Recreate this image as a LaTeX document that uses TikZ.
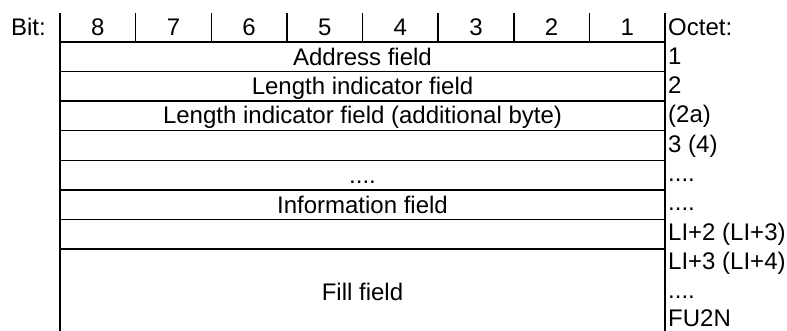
\documentclass[tikz,border=0pt]{standalone}
\usepackage{fontspec}
\setmainfont{Liberation Sans}
\begin{document}
\begin{tikzpicture}[x=1pt,y=-1pt,
  rule/.style={line width=1.5pt},
  txt/.style={inner sep=0pt,anchor=base,font=\fontsize{24}{28}\selectfont},
  oct/.style={inner sep=0pt,anchor=base west,font=\fontsize{24}{28}\selectfont}]
\useasboundingbox (0,0) rectangle (787,330);
\def\cw{75.625}
% header verticals
\foreach \i in {0,...,8} {\coordinate (h\i) at ({60+\i*\cw},13);}
\foreach \i in {1,...,7} {\draw[rule] (h\i) -- ++(0,29);}
% outer verticals
\coordinate (lt) at (60,13); \coordinate (lb) at (60,331);
\coordinate (rt) at (665,13); \coordinate (rb) at (665,331);
\draw[rule] (lt) -- (lb);
\draw[rule] (rt) -- (rb);
% horizontal rules
\foreach \k in {0,...,7} {
  \coordinate (a\k) at (60,{42+\k*29.57});
  \coordinate (b\k) at (665,{42+\k*29.57});
  \draw[rule] (a\k) -- (b\k);
}
% header text
\node[txt] (bit) at (28.5,35) {Bit:};
\foreach \i [evaluate=\i as \n using int(8-\i)] in {0,...,7}
  {\node[txt] (n\i) at ({60+(\i+0.5)*\cw},35) {\n};}
% field texts
\node[txt] (addr) at (362.5,65) {Address field};
\node[txt] (len) at (362.5,94) {Length indicator field};
\node[txt] (lenb) at (362.5,123) {Length indicator field (additional byte)};
\node[txt] (dots) at (362.5,183) {....};
\node[txt] (info) at (362.5,213) {Information field};
\node[txt] (fill) at (362.5,300) {Fill field};
% octet labels
\node[oct] (o0) at (668,35) {Octet:};
\node[oct] (o1) at (668,64.3) {1};
\node[oct] (o2) at (668,93.6) {2};
\node[oct] (o3) at (668,122.9) {(2a)};
\node[oct] (o4) at (668,152.2) {3 (4)};
\node[oct] (o5) at (668,181.5) {....};
\node[oct] (o6) at (668,210.8) {....};
\node[oct] (o7) at (668,240.1) {LI+2 (LI+3)};
\node[oct] (o8) at (668,269.4) {LI+3 (LI+4)};
\node[oct] (o9) at (668,298.4) {....};
\node[oct] (o10) at (668,326.3) {FU2N};
\end{tikzpicture}
\end{document}
